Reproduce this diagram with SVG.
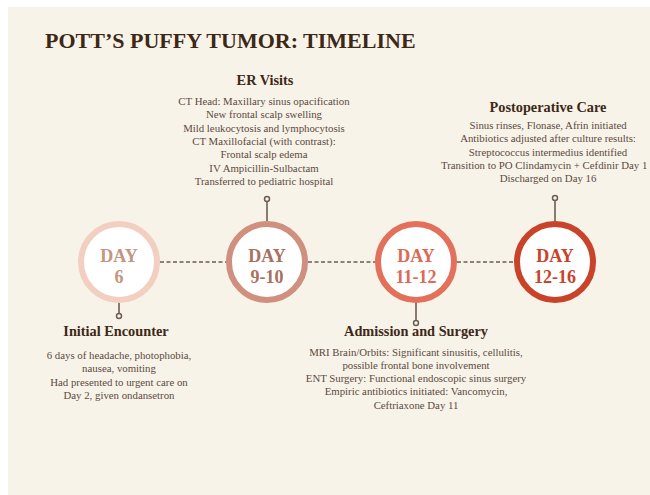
<svg xmlns="http://www.w3.org/2000/svg" width="650" height="495" viewBox="0 0 650 495">
<style>
.title{font-family:"Liberation Serif","Times New Roman",serif;font-weight:bold;font-size:22px;fill:#3D2817}
.head{font-family:"Liberation Serif","Times New Roman",serif;font-weight:bold;font-size:14.3px;fill:#3D2817;text-anchor:middle}
.body{font-family:"Liberation Serif","Times New Roman",serif;font-size:10.8px;fill:#5A4A40;text-anchor:middle}
.day{font-family:"Liberation Serif","Times New Roman",serif;font-weight:bold;font-size:18px;text-anchor:middle}
.ring{fill:#FFFFFF;stroke-width:6}
.stem{stroke:#6E5C52;stroke-width:1.6;fill:none}
.dot{fill:#F8F3E9;stroke:#6E5C52;stroke-width:1.5}
.dash{stroke:#6E5C52;stroke-width:1.5;stroke-dasharray:4 2.5;fill:none}
</style>
<rect x="0" y="0" width="650" height="495" fill="#FFFFFF"/>
<rect x="8" y="7" width="642" height="488" fill="#F8F3E9"/>
<text class="title" x="45" y="48">POTT’S PUFFY TUMOR: TIMELINE</text>

<g id="connectors">
<line class="dash" x1="160" y1="262" x2="226" y2="262"/>
<line class="dash" x1="308" y1="262" x2="375" y2="262"/>
<line class="dash" x1="457" y1="262" x2="514" y2="262"/>
<line class="stem" x1="119" y1="303" x2="119" y2="314"/>
<circle class="dot" cx="119" cy="316" r="2.5"/>
<line class="stem" x1="267" y1="201" x2="267" y2="221"/>
<circle class="dot" cx="267" cy="199" r="2.5"/>
<line class="stem" x1="416" y1="303" x2="416" y2="321"/>
<circle class="dot" cx="416" cy="323" r="2.5"/>
<line class="stem" x1="555" y1="200" x2="555" y2="221"/>
<circle class="dot" cx="555" cy="198" r="2.5"/>
</g>

<g id="day6">
<circle class="ring" cx="119" cy="262" r="38" stroke="#F2CFC0"/>
<text class="day" x="119" y="262" fill="#C49580">DAY</text>
<text class="day" x="119" y="283" fill="#C49580">6</text>
</g>
<g id="day9-10">
<circle class="ring" cx="267" cy="262" r="38" stroke="#D0907F"/>
<text class="day" x="267" y="262" fill="#A8705F">DAY</text>
<text class="day" x="267" y="283" fill="#A8705F">9-10</text>
</g>
<g id="day11-12">
<circle class="ring" cx="416" cy="262" r="38" stroke="#E2705A"/>
<text class="day" x="416" y="262" fill="#DC6A55">DAY</text>
<text class="day" x="416" y="283" fill="#DC6A55">11-12</text>
</g>
<g id="day12-16">
<circle class="ring" cx="555" cy="262" r="38" stroke="#C9432A"/>
<text class="day" x="555" y="262" fill="#C9432A">DAY</text>
<text class="day" x="555" y="283" fill="#C9432A">12-16</text>
</g>

<g id="er-visits">
<text class="head" x="265" y="85">ER Visits</text>
<text class="body" x="264" y="105">CT Head: Maxillary sinus opacification</text>
<text class="body" x="264" y="118.3">New frontal scalp swelling</text>
<text class="body" x="264" y="131.6">Mild leukocytosis and lymphocytosis</text>
<text class="body" x="264" y="144.9">CT Maxillofacial (with contrast):</text>
<text class="body" x="264" y="158.2">Frontal scalp edema</text>
<text class="body" x="264" y="171.5">IV Ampicillin-Sulbactam</text>
<text class="body" x="264" y="184.8">Transferred to pediatric hospital</text>
</g>

<g id="postoperative-care">
<text class="head" x="548" y="112">Postoperative Care</text>
<text class="body" x="548" y="129">Sinus rinses, Flonase, Afrin initiated</text>
<text class="body" x="548" y="142.3">Antibiotics adjusted after culture results:</text>
<text class="body" x="548" y="155.6">Streptococcus intermedius identified</text>
<text class="body" x="441" y="168.9" style="text-anchor:start">Transition to PO Clindamycin + Cefdinir Day 1</text>
<text class="body" x="548" y="182.2">Discharged on Day 16</text>
</g>

<g id="initial-encounter">
<text class="head" x="116" y="336">Initial Encounter</text>
<text class="body" x="119" y="359">6 days of headache, photophobia,</text>
<text class="body" x="119" y="372.3">nausea, vomiting</text>
<text class="body" x="119" y="385.6">Had presented to urgent care on</text>
<text class="body" x="119" y="398.9">Day 2, given ondansetron</text>
</g>

<g id="admission-surgery">
<text class="head" x="416" y="336">Admission and Surgery</text>
<text class="body" x="416" y="355.5">MRI Brain/Orbits: Significant sinusitis, cellulitis,</text>
<text class="body" x="416" y="368.8">possible frontal bone involvement</text>
<text class="body" x="416" y="382.1">ENT Surgery: Functional endoscopic sinus surgery</text>
<text class="body" x="416" y="395.4">Empiric antibiotics initiated: Vancomycin,</text>
<text class="body" x="416" y="408.7">Ceftriaxone Day 11</text>
</g>
</svg>
